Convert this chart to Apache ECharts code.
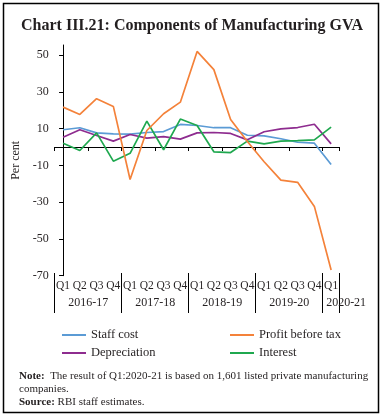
<!DOCTYPE html>
<html><head><meta charset="utf-8">
<script src="https://cdn.jsdelivr.net/npm/echarts@6/dist/echarts.min.js"></script>
<style>html,body{margin:0;padding:0;background:#fff}#c{width:384px;height:417px}</style>
</head><body><div id="c"></div>
<script>
const quarters = ['Q1','Q2','Q3','Q4','Q1','Q2','Q3','Q4','Q1','Q2','Q3','Q4','Q1','Q2','Q3','Q4','Q1'];
const years = ['2016-17','2017-18','2018-19','2019-20','2020-21'];
const yearCenters = [1.5, 5.5, 9.5, 13.5, 16];
const yearStartIdx = [0, 4, 8, 12, 16];
const staffCost = [9.4, 10.5, 7.7, 7.2, 7.0, 7.9, 8.4, 12.3, 11.7, 10.5, 10.5, 6.4, 6.1, 4.5, 2.6, 2.1, -9.5];
const profitBeforeTax = [21.7, 17.7, 26.3, 22.1, -17.7, 9.0, 18.1, 24.4, 52.0, 42.1, 15.0, 3.0, -8.0, -18.0, -19.2, -32.3, -66.9];
const depreciation = [5.3, 9.4, 6.3, 3.2, 6.8, 4.8, 5.7, 4.3, 7.7, 7.9, 7.4, 3.9, 8.3, 9.9, 10.6, 12.4, 1.7];
const interest = [2.1, -1.9, 7.7, -7.7, -3.4, 14.1, -1.5, 15.2, 11.7, -2.6, -3.0, 3.2, 1.7, 3.2, 3.5, 3.9, 10.8];
const yTicks = [-70, -50, -30, -10, 10, 30, 50];

const F = 'Liberation Serif';
const TXT = '#231F20';
const chart = echarts.init(document.getElementById('c'));
function line(name, data, color) {
  return { name, type: 'line', data, xAxisIndex: 0, symbol: 'none',
    lineStyle: { color, width: 1.7 }, itemStyle: { color } };
}
chart.setOption({
  animation: false,
  textStyle: { fontFamily: F, color: TXT },
  title: [
    { text: 'Chart III.21: Components of Manufacturing GVA', left: 'center', top: 13,
      textStyle: { fontFamily: F, fontSize: 16, fontWeight: 'bold', color: TXT } },
    { text: '{b|Note:}  The result of Q1:2020-21 is based on 1,601 listed private manufacturing\ncompanies.\n{b|Source:} RBI staff estimates.',
      left: 14, top: 365,
      textStyle: { fontFamily: F, fontSize: 11, lineHeight: 13, color: TXT, fontWeight: 'normal',
        rich: { b: { fontFamily: F, fontSize: 11, fontWeight: 'bold', color: TXT, lineHeight: 13 } } } }
  ],
  graphic: [{ type: 'rect', shape: { x: 3.5, y: 3.5, width: 375, height: 409 },
    style: { fill: 'none', stroke: '#000', lineWidth: 1.5 }, silent: true }],
  grid: { left: 54.7, right: 44.5, top: 45, bottom: 141.3, containLabel: false },
  legend: [
    { data: ['Staff cost', 'Depreciation'], left: 57, top: 323, orient: 'vertical', icon: 'rect',
      itemWidth: 24, itemHeight: 2, itemGap: 4, textStyle: { fontFamily: F, fontSize: 12.5, color: TXT, lineHeight: 14 } },
    { data: ['Profit before tax', 'Interest'], left: 225, top: 323, orient: 'vertical', icon: 'rect',
      itemWidth: 24, itemHeight: 2, itemGap: 4, textStyle: { fontFamily: F, fontSize: 12.5, color: TXT, lineHeight: 14 } }
  ],
  xAxis: [
    { type: 'category', data: quarters, boundaryGap: true,
      axisLine: { onZero: true, lineStyle: { color: '#000', width: 1 } },
      axisTick: { show: true, length: 4, lineStyle: { color: '#000' } },
      axisLabel: { show: false }, splitLine: { show: false } },
    { type: 'category', data: quarters, boundaryGap: true, position: 'bottom', offset: -2.7,
      axisLine: { show: true, onZero: false, lineStyle: { opacity: 0 } },
      axisTick: { show: true, length: 40, interval: (i) => yearStartIdx.indexOf(i) >= 0, lineStyle: { color: '#000', width: 1 } },
      axisLabel: { interval: 0, fontFamily: F, fontSize: 11.5, color: TXT, margin: 7 }, splitLine: { show: false } },
    { type: 'value', min: -0.5, max: 16.5, position: 'bottom', offset: -2.7,
      axisLine: { show: false, onZero: false },
      axisTick: { show: false },
      splitLine: { show: false },
      axisLabel: { customValues: yearCenters, fontFamily: F, fontSize: 12, color: TXT, margin: 24,
        rich: { last: { fontFamily: F, fontSize: 12, color: TXT, padding: [0, 0, 0, 30] } },
        formatter: (v) => { const k = yearCenters.indexOf(v); if (k < 0) return ''; return k === years.length - 1 ? '{last|' + years[k] + '}' : years[k]; } } }
  ],
  yAxis: {
    type: 'value', min: -70, max: 55.5, interval: 20,
    name: 'Per cent', nameLocation: 'middle', nameGap: 28, nameRotate: 90,
    nameTextStyle: { fontFamily: F, fontSize: 12, color: TXT },
    axisLine: { show: true, lineStyle: { color: '#000', width: 1 } },
    axisTick: { show: true, length: 4, customValues: yTicks, lineStyle: { color: '#000' } },
    axisLabel: { customValues: yTicks, fontFamily: F, fontSize: 12, color: TXT, margin: 6 },
    splitLine: { show: false }
  },
  series: [
    line('Staff cost', staffCost, '#5B9BD5'),
    line('Depreciation', depreciation, '#8E2C8F'),
    line('Interest', interest, '#1FA84F'),
    line('Profit before tax', profitBeforeTax, '#F4823A')
  ]
});
</script></body></html>
